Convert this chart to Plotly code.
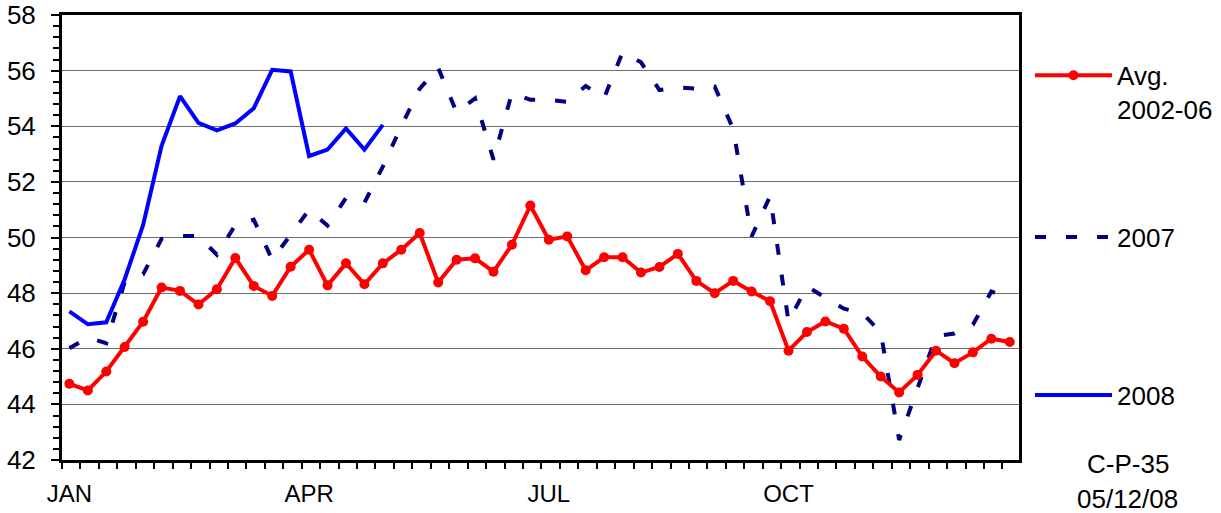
import plotly.graph_objects as go

# Weekly index (52 weeks of the year)
weeks = list(range(52))

# Avg. 2002-06 (52 weekly values)
avg_2002_06 = [44.74, 44.50, 45.18, 46.06, 46.97, 48.20, 48.08, 47.59, 48.14, 49.26,
               48.26, 47.90, 48.95, 49.56, 48.28, 49.07, 48.32, 49.07, 49.56, 50.16,
               48.38, 49.20, 49.25, 48.77, 49.74, 51.15, 49.92, 50.04, 48.82, 49.29,
               49.29, 48.74, 48.94, 49.41, 48.44, 48.00, 48.44, 48.06, 47.71, 45.93,
               46.60, 46.98, 46.72, 45.72, 45.00, 44.43, 45.06, 45.93, 45.48, 45.87,
               46.36, 46.24]

# 2007 (52 weekly values)
y2007 = [46.02, 46.40, 46.20, 48.40, 48.68, 49.95, 50.05, 50.05, 49.38, 50.45,
         50.64, 49.20, 50.10, 51.00, 50.43, 51.42, 51.25, 52.55, 54.00, 55.35,
         56.10, 54.50, 55.00, 52.80, 55.20, 54.95, 54.95, 54.88, 55.45, 55.02,
         56.66, 56.30, 55.30, 55.40, 55.35, 55.42, 53.90, 50.04, 51.48, 46.98,
         48.24, 47.85, 47.44, 47.28, 46.60, 42.72, 44.60, 46.45, 46.55, 46.86,
         48.06, 47.80]

# 2008 (weeks reported so far)
y2008 = [47.34, 46.88, 46.95, 48.50, 50.45, 53.30, 55.08, 54.12, 53.85, 54.10,
         54.65, 56.03, 55.97, 52.93, 53.16, 53.92, 53.16, 54.05]

month_ticks = [0, 13, 26, 39]
month_labels = ["JAN", "APR", "JUL", "OCT"]

FONT = "Liberation Sans, Arial, sans-serif"

fig = go.Figure()
fig.add_trace(go.Scatter(x=weeks, y=y2007, mode="lines", name="2007",
                         line=dict(color="#000080", width=4, dash="11px,20px"),
                         legend="legend2"))
fig.add_trace(go.Scatter(x=weeks[:len(y2008)], y=y2008, mode="lines", name="2008",
                         line=dict(color="#0000FF", width=4),
                         legend="legend3"))
fig.add_trace(go.Scatter(x=weeks, y=avg_2002_06, mode="lines+markers",
                         name="Avg.<br>2002-06",
                         line=dict(color="#FF0000", width=4),
                         marker=dict(size=10, color="#FF0000"),
                         legend="legend"))

legend_common = dict(xref="paper", yref="paper", xanchor="left",
                     font=dict(family=FONT, size=26, color="black"),
                     bgcolor="rgba(0,0,0,0)", borderwidth=0,
                     itemwidth=77, valign="top")

fig.update_layout(
    width=1221, height=513,
    margin=dict(l=62, r=202, t=15, b=53, autoexpand=False),
    paper_bgcolor="white", plot_bgcolor="white",
    font=dict(family=FONT, color="black"),
    showlegend=True,
    legend=dict(x=1.0115, y=0.917, yanchor="top", **legend_common),
    legend2=dict(x=1.0115, y=0.501, yanchor="middle", **legend_common),
    legend3=dict(x=1.0115, y=0.146, yanchor="middle", **legend_common),
    xaxis=dict(
        range=[-0.4, 51.5], automargin=False,
        tickmode="array", tickvals=month_ticks, ticktext=month_labels,
        ticks="", showgrid=False, zeroline=False,
        showline=True, linecolor="black", linewidth=3, mirror=True,
        tickfont=dict(family=FONT, size=24, color="black"),
        ticklabelstandoff=10,
        minor=dict(ticks="outside", tick0=-0.4, dtick=1, ticklen=6,
                   tickwidth=2, tickcolor="black", showgrid=False),
    ),
    yaxis=dict(
        range=[42, 58], automargin=False,
        tickmode="linear", tick0=42, dtick=2,
        ticks="outside", ticklen=8, tickwidth=2, tickcolor="black",
        showgrid=True, gridcolor="#6e6e6e", gridwidth=1, zeroline=False,
        showline=True, linecolor="black", linewidth=3, mirror=True,
        tickfont=dict(family=FONT, size=26, color="black"),
        ticklabelstandoff=10,
        minor=dict(ticks="outside", tick0=42, dtick=0.4, ticklen=6,
                   tickwidth=2, tickcolor="black", showgrid=False),
    ),
    annotations=[
        dict(text="C-P-35", xref="paper", yref="paper", x=1.1134, y=-0.009,
             xanchor="center", yanchor="middle", showarrow=False,
             font=dict(family=FONT, size=26, color="black")),
        dict(text="05/12/08", xref="paper", yref="paper", x=1.1134, y=-0.0876,
             xanchor="center", yanchor="middle", showarrow=False,
             font=dict(family=FONT, size=26, color="black")),
    ],
)

fig.write_html("out.html",
               config={"displayModeBar": False},
               post_script="document.body.style.margin='0';document.body.style.overflow='hidden';")
